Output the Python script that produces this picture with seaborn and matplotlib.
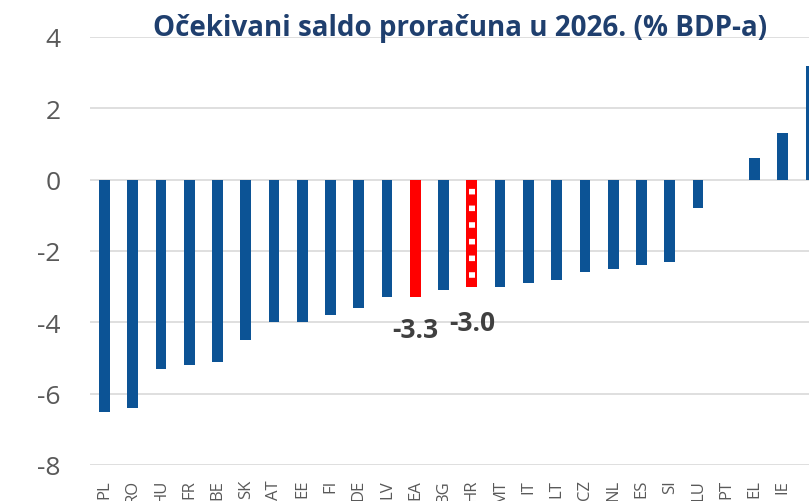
import matplotlib
matplotlib.use("Agg")
import matplotlib.pyplot as plt
import seaborn as sns

# Data
countries = ["PL", "RO", "HU", "FR", "BE", "SK", "AT", "EE", "FI", "DE", "LV", "EA", "BG",
             "HR", "MT", "IT", "LT", "CZ", "NL", "ES", "SI", "LU", "PT", "EL", "IE", "CY"]
balance = [-6.5, -6.4, -5.3, -5.2, -5.1, -4.5, -4.0, -4.0, -3.8, -3.6, -3.3, -3.3, -3.1,
           -3.0, -3.0, -2.9, -2.8, -2.6, -2.5, -2.4, -2.3, -0.8, 0.0, 0.6, 1.3, 3.2]
highlight = {"EA": "-3.3", "HR": "-3.0"}
title = "Očekivani saldo proračuna u 2026. (% BDP-a)"

blue = "#0C5395"
red = "#FF0000"
grey = "#595959"

sns.set_style("white")
plt.rcParams["font.family"] = ["Open Sans", "DejaVu Sans"]
plt.rcParams["axes.unicode_minus"] = False
plt.rcParams["hatch.linewidth"] = 4

fig = plt.figure(figsize=(8.09, 5.02), dpi=100)
ax = fig.add_axes([90 / 809, 1 - 466 / 502, 1 - 90 / 809, (466 - 38) / 502])

colors = {c: (red if c in highlight else blue) for c in countries}
sns.barplot(x=countries, y=balance, hue=countries, palette=colors, legend=False,
            width=0.38, saturation=1, linewidth=0, ax=ax, zorder=3)

# Croatia: patterned bar (white squares inside red)
hr = countries.index("HR")
ax.bar(hr, balance[hr], width=0.19, facecolor="none", edgecolor="white",
       linewidth=0, hatch="-", zorder=4)

# value labels
offsets = {"EA": 0.9, "HR": 1.0}
for c, lab in highlight.items():
    i = countries.index(c)
    ax.text(i, balance[i] - offsets[c], lab, ha="center", va="center",
            fontsize=19, fontweight="bold", color="#404040", zorder=5)

ax.set_ylim(-8, 4)
ax.set_yticks(range(-8, 5, 2))
ax.set_xlim(-0.513, 24.93)
ax.grid(axis="y", color="#D9D9D9", linewidth=1.2, zorder=0)
ax.set_axisbelow(True)
for s in ax.spines.values():
    s.set_visible(False)
ax.tick_params(axis="y", length=0, pad=21, labelsize=19, labelcolor=grey)
ax.tick_params(axis="x", length=0, pad=10, labelsize=12, labelcolor=grey, labelrotation=90)

fig.text(460 / 809, 1 - 36 / 502, title, ha="center", va="baseline",
         fontsize=20, fontweight="bold", color="#1F3F6E")

fig.savefig("out.png", dpi=100)
